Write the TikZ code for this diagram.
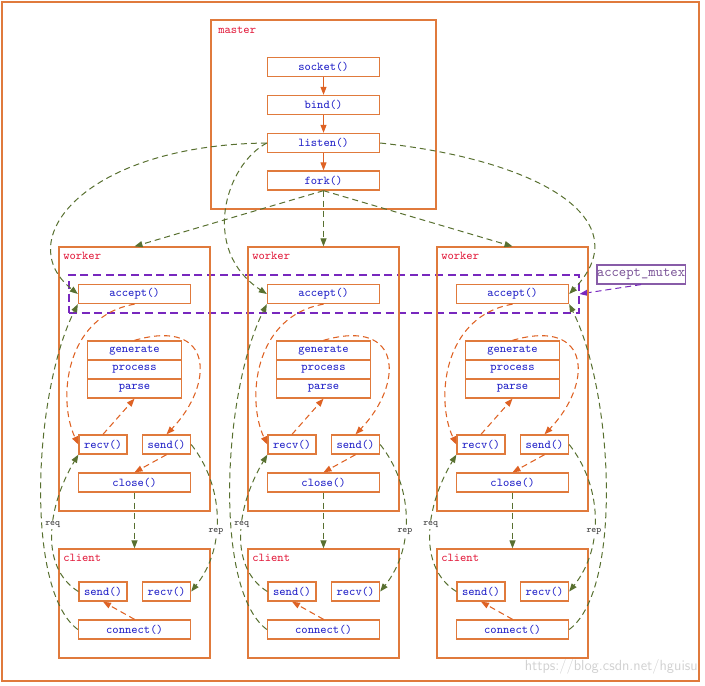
\documentclass[tikz,border=0pt]{standalone}
\usetikzlibrary{arrows.meta}
\definecolor{boxc}{RGB}{224,122,60}
\definecolor{flowc}{RGB}{222,98,36}
\definecolor{linkc}{RGB}{88,112,48}
\definecolor{lockc}{RGB}{120,40,190}
\definecolor{lockbox}{RGB}{136,92,168}
\definecolor{txtc}{RGB}{34,34,200}
\definecolor{namec}{RGB}{226,30,62}

\begin{document}
\begin{tikzpicture}[x=0.75pt,y=-0.75pt,>={Triangle[length=6pt,width=4.5pt]},
  fn/.style={draw=boxc,line width=1pt,fill=white,text=txtc,font=\fontsize{9}{10}\ttfamily,inner sep=0pt,minimum height=14.25pt,minimum width=84pt},
  grp/.style={draw=boxc,line width=0.9pt,inner sep=0pt,minimum width=113.25pt},
  grpname/.style={text=namec,font=\fontsize{9}{10}\ttfamily,anchor=west,inner sep=0pt},
  flow/.style={flowc,line width=0.8pt},
  flowdash/.style={flow,dash pattern=on 4.5pt off 3pt},
  link/.style={linkc,line width=0.75pt,dash pattern=on 4.5pt off 3pt},
  tag/.style={font=\fontsize{7}{8}\ttfamily,text=black!75,fill=white,inner sep=0.5pt}]
  \def\dx{189};
  \def\bx{59};
  \useasboundingbox (0,0) rectangle (705,685);
  \draw[boxc,line width=0.8pt] (2,2) rectangle (699,681);
  % master
  \node[grp,minimum width=168.75pt,minimum height=141.75pt] (master) at (323.5,114.5) {};
  \node[grpname] at (218,30) {master};
  \node[fn] (socket) at (323.5,67) {socket()};
  \node[fn] (bind) at (323.5,105) {bind()};
  \node[fn] (listen) at (323.5,143) {listen()};
  \node[fn] (fork) at (323.5,180.5) {fork()};
  \draw[flow,->] (socket) -- (bind);
  \draw[flow,->] (bind) -- (listen);
  \draw[flow,->] (listen) -- (fork);
  % lock
  \node[draw=lockc,line width=0.8pt,dash pattern=on 6pt off 3.5pt,minimum width=382.5pt,minimum height=28.5pt] (mutexbox) at (324,294) {};
  \node[draw=lockbox,line width=0.9pt,text=lockbox!90!black,font=\fontsize{10.5}{11}\ttfamily,inner sep=0pt,minimum width=64.5pt,minimum height=14.25pt] (mutex) at (641,274.5) {accept\_mutex};
  \draw[lockc,line width=0.75pt,dash pattern=on 4.5pt off 3pt,->] (mutex.south) -- (mutexbox.east);
  % workers and clients
  \foreach \i in {0,1,2} {
    \pgfmathsetmacro\x{\bx+\dx*\i}
    \node[grp,minimum height=198pt] (wk\i) at (\x+75.5,379) {};
    \node[grpname] at (\x+4,256) {worker};
    \node[fn] (acc\i) at (\x+75.5,294) {accept()};
    \node[fn,minimum width=70.5pt] (gen\i) at (\x+75.5,350.5) {generate};
    \node[fn,minimum width=70.5pt] (proc\i) at (\x+75.5,369.5) {process};
    \node[fn,minimum width=70.5pt] (parse\i) at (\x+75.5,388.5) {parse};
    \node[fn,minimum width=36pt] (recv\i) at (\x+44,444.5) {recv()};
    \node[fn,minimum width=36pt] (send\i) at (\x+107.5,444.5) {send()};
    \node[fn] (close\i) at (\x+75.5,482.5) {close()};
    \node[grp,minimum height=81.75pt] (cl\i) at (\x+75.5,603.5) {};
    \node[grpname] at (\x+4,558) {client};
    \node[fn,minimum width=36pt] (csend\i) at (\x+44,591.5) {send()};
    \node[fn,minimum width=36pt] (crecv\i) at (\x+107.5,591.5) {recv()};
    \node[fn] (conn\i) at (\x+75.5,629.5) {connect()};
    \draw[link,->] (fork.south) -- (wk\i.north);
    \draw[flowdash,->] (acc\i.south) .. controls +(-70,12) and +(-21,-44) .. (recv\i.west);
    \draw[flowdash,->] (recv\i.north) -- (parse\i.south);
    \draw[flowdash,->] (gen\i.north) .. controls +(80,-23) and +(48,-50) .. (send\i.north);
    \draw[flowdash,->] (send\i.south) -- (close\i.north);
    \draw[flowdash,->] (conn\i.north) -- (csend\i.south);
    \draw[link,->] (close\i.south) -- (cl\i.north);
    \draw[link,->] (csend\i.west) .. controls +(-40,-25) and +(-30,50) .. node[tag,pos=0.55] {req} (recv\i.south west);
    \draw[link,->] (send\i.east) .. controls +(32,40) and +(36,-45) .. node[tag,pos=0.6] {rep} (crecv\i.east);
    \ifnum\i<2
      \draw[link,->] (conn\i.west) .. controls +(-54,-40) and +(-44,87) .. (acc\i.south west);
    \else
      \draw[link,->] (conn\i.east) .. controls +(54,-40) and +(44,87) .. (acc\i.south east);
    \fi
  }
  \draw[link,->] (listen.west) .. controls (85,145) and (10,240) .. (acc0.west);
  \draw[link,->] (listen.west) .. controls (225,165) and (200,250) .. (acc1.west);
  \draw[link,->] (listen.east) .. controls (540,160) and (640,220) .. (acc2.east);
  \node[text=black!18,font=\fontsize{11}{12}\sffamily,anchor=east,inner sep=0pt] (mark) at (698,667) {https://blog.csdn.net/hguisu};
\end{tikzpicture}
\end{document}
